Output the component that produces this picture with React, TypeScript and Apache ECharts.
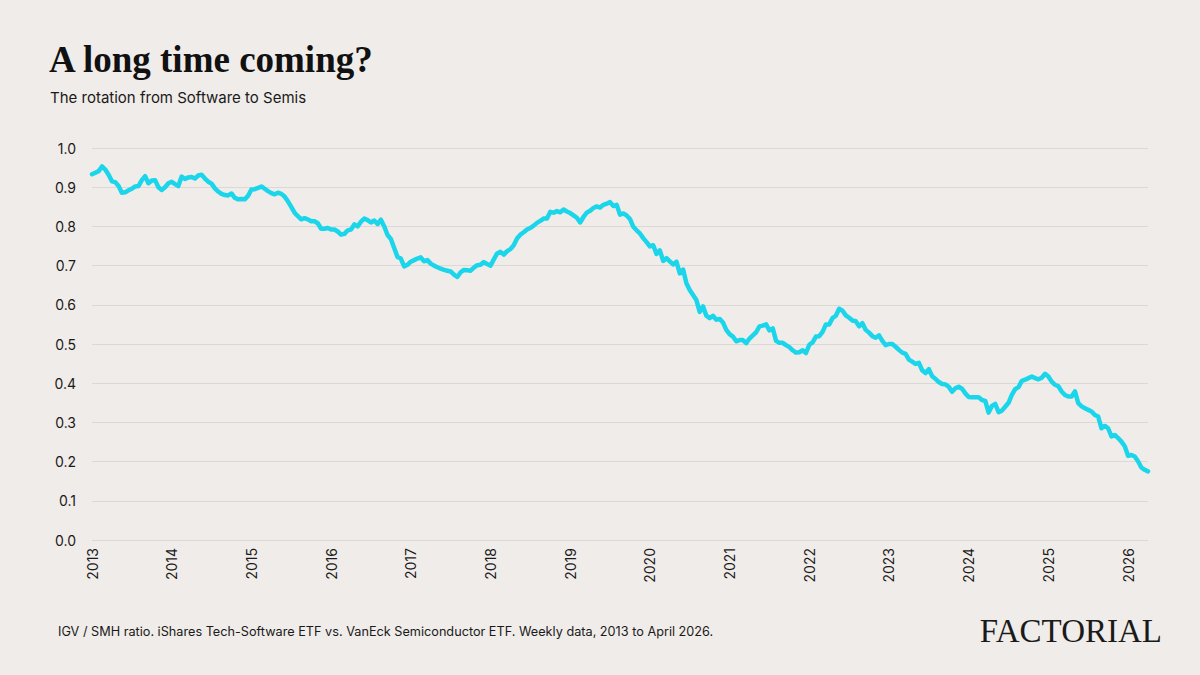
import React, { useEffect, useRef } from "react";
import * as echarts from "echarts";

// IGV / SMH ratio, sampled every half month (1/24 year) from Jan 2013 to Apr 2026
const START_YEAR = 2013;
const STEPS_PER_YEAR = 24;
const ratio: number[] = [
  0.933, 0.937, 0.941, 0.953, 0.945, 0.932, 0.915, 0.913, 0.903, 0.886,
  0.887, 0.892, 0.896, 0.902, 0.903, 0.918, 0.928, 0.910, 0.917, 0.918,
  0.900, 0.893, 0.900, 0.910, 0.914, 0.908, 0.903, 0.927, 0.921, 0.925,
  0.926, 0.922, 0.930, 0.932, 0.922, 0.914, 0.909, 0.897, 0.889, 0.883,
  0.880, 0.879, 0.884, 0.873, 0.869, 0.870, 0.869, 0.878, 0.894, 0.895,
  0.898, 0.902, 0.896, 0.890, 0.885, 0.882, 0.886, 0.883, 0.876, 0.864,
  0.850, 0.835, 0.826, 0.818, 0.821, 0.818, 0.813, 0.813, 0.808, 0.794,
  0.794, 0.796, 0.792, 0.792, 0.787, 0.779, 0.781, 0.790, 0.792, 0.805,
  0.800, 0.812, 0.820, 0.816, 0.810, 0.815, 0.806, 0.817, 0.800, 0.778,
  0.768, 0.745, 0.722, 0.718, 0.698, 0.702, 0.710, 0.714, 0.718, 0.721,
  0.711, 0.714, 0.705, 0.700, 0.696, 0.692, 0.689, 0.687, 0.685, 0.677,
  0.671, 0.683, 0.689, 0.688, 0.687, 0.695, 0.701, 0.702, 0.709, 0.704,
  0.700, 0.716, 0.731, 0.735, 0.728, 0.737, 0.742, 0.752, 0.769, 0.779,
  0.785, 0.792, 0.796, 0.802, 0.809, 0.814, 0.820, 0.820, 0.837, 0.835,
  0.839, 0.836, 0.843, 0.838, 0.834, 0.828, 0.822, 0.810, 0.824, 0.835,
  0.840, 0.847, 0.851, 0.848, 0.855, 0.858, 0.862, 0.852, 0.855, 0.830,
  0.833, 0.828, 0.819, 0.799, 0.790, 0.782, 0.770, 0.760, 0.749, 0.752,
  0.730, 0.739, 0.712, 0.719, 0.711, 0.703, 0.710, 0.680, 0.690, 0.655,
  0.638, 0.625, 0.612, 0.582, 0.596, 0.572, 0.566, 0.572, 0.562, 0.564,
  0.555, 0.536, 0.525, 0.519, 0.507, 0.510, 0.510, 0.502, 0.514, 0.522,
  0.530, 0.545, 0.547, 0.550, 0.535, 0.540, 0.508, 0.503, 0.503, 0.497,
  0.492, 0.484, 0.478, 0.479, 0.484, 0.477, 0.498, 0.504, 0.519, 0.520,
  0.531, 0.550, 0.550, 0.566, 0.572, 0.590, 0.585, 0.573, 0.567, 0.560,
  0.558, 0.545, 0.553, 0.536, 0.529, 0.520, 0.516, 0.522, 0.508, 0.497,
  0.500, 0.500, 0.493, 0.485, 0.478, 0.475, 0.460, 0.455, 0.449, 0.452,
  0.433, 0.426, 0.436, 0.418, 0.411, 0.403, 0.398, 0.397, 0.391, 0.378,
  0.387, 0.391, 0.386, 0.374, 0.365, 0.364, 0.364, 0.364, 0.357, 0.355,
  0.325, 0.342, 0.347, 0.326, 0.330, 0.340, 0.350, 0.370, 0.385, 0.390,
  0.406, 0.409, 0.413, 0.417, 0.413, 0.410, 0.414, 0.424, 0.417, 0.404,
  0.396, 0.392, 0.379, 0.370, 0.366, 0.366, 0.379, 0.349, 0.341, 0.336,
  0.332, 0.328, 0.319, 0.315, 0.285, 0.291, 0.285, 0.264, 0.268, 0.260,
  0.251, 0.239, 0.215, 0.217, 0.213, 0.201, 0.185, 0.179, 0.175,
];

const yTicks: number[] = [0, 0.1, 0.2, 0.3, 0.4, 0.5, 0.6, 0.7, 0.8, 0.9, 1.0];
const yearTicks: number[] = [
  2013, 2014, 2015, 2016, 2017, 2018, 2019, 2020, 2021, 2022, 2023, 2024, 2025, 2026,
];

const TITLE = "A long time coming?";
const SUBTITLE = "The rotation from Software to Semis";
const FOOTNOTE =
  "IGV / SMH ratio. iShares Tech-Software ETF vs. VanEck Semiconductor ETF. Weekly data, 2013 to April 2026.";
const BRAND = "FACTORIAL";

const BG = "#f0ece9";
const LINE = "#1bd6ea";
const SANS = "Inter, 'Noto Sans', Roboto, sans-serif";
const SERIF = "'Liberation Serif', 'DejaVu Serif', serif";

export default function App() {
  const ref = useRef<HTMLDivElement>(null);

  useEffect(() => {
    document.body.style.margin = "0";
    document.body.style.background = BG;
    if (!ref.current) return;
    const chart = echarts.init(ref.current, null, { renderer: "svg" });
    const seriesData = ratio.map((v, i) => [START_YEAR + i / STEPS_PER_YEAR, v]);
    const xMax = START_YEAR + (ratio.length - 1) / STEPS_PER_YEAR;

    chart.setOption({
      animation: false,
      backgroundColor: BG,
      textStyle: { fontFamily: SANS },
      grid: { left: 92, right: 52, top: 148, bottom: 135, containLabel: false },
      graphic: [
        {
          type: "text",
          left: 49,
          top: 41,
          style: { text: TITLE, font: `bold 37px ${SERIF}`, fill: "#111111" },
        },
        {
          type: "text",
          left: 50,
          top: 90,
          style: { text: SUBTITLE, font: `15px ${SANS}`, fill: "#1a1a1a" },
        },
        {
          type: "text",
          left: 58,
          top: 625,
          style: { text: FOOTNOTE, font: `12.7px ${SANS}`, fill: "#1a1a1a" },
        },
        {
          type: "text",
          right: 38,
          top: 614,
          style: { text: BRAND, font: `33px ${SERIF}`, fill: "#1a1a1a" },
        },
      ],
      xAxis: {
        type: "value",
        min: yearTicks[0],
        max: xMax,
        interval: 1,
        axisLine: { show: false },
        axisTick: { show: false },
        splitLine: { show: false },
        axisLabel: {
          rotate: 90,
          margin: 8,
          fontSize: 14,
          color: "#1a1a1a",
          fontFamily: SANS,
          showMaxLabel: false,
          formatter: (v: number) => (yearTicks.includes(v) ? String(v) : ""),
        },
      },
      yAxis: {
        type: "value",
        min: yTicks[0],
        max: yTicks[yTicks.length - 1],
        interval: 0.1,
        axisLine: { show: false },
        axisTick: { show: false },
        splitLine: { lineStyle: { color: "#dcd8d4", width: 1 } },
        axisLabel: {
          margin: 16,
          fontSize: 14,
          color: "#1a1a1a",
          fontFamily: SANS,
          formatter: (v: number) => v.toFixed(1),
        },
      },
      series: [
        {
          type: "line",
          data: seriesData,
          showSymbol: false,
          symbol: "none",
          lineStyle: { color: LINE, width: 4.5, cap: "round", join: "round" },
        },
      ],
    });

    return () => chart.dispose();
  }, []);

  return <div ref={ref} style={{ width: 1200, height: 675 }} />;
}
